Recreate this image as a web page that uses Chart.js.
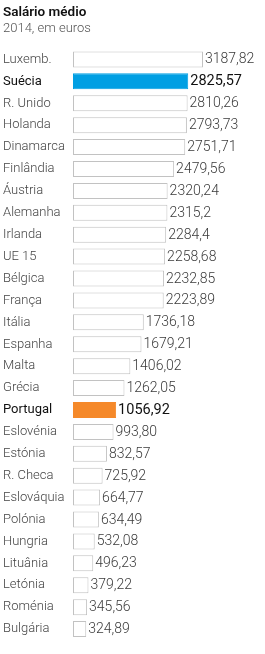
<!DOCTYPE html>
<html>
<head>
<meta charset="utf-8">
<script src="https://cdn.jsdelivr.net/npm/chart.js@4.4.1/dist/chart.umd.min.js"></script>
<style>
  html, body { margin: 0; padding: 0; background: #fff; }
  #wrap { width: 265px; height: 654px; position: relative; }
</style>
</head>
<body>
<div id="wrap"><canvas id="chart"></canvas></div>
<script>
// average salary 2014, euros
const countries = ['Luxemb.', 'Suécia', 'R. Unido', 'Holanda', 'Dinamarca', 'Finlândia', 'Áustria',
  'Alemanha', 'Irlanda', 'UE 15', 'Bélgica', 'França', 'Itália', 'Espanha', 'Malta', 'Grécia',
  'Portugal', 'Eslovénia', 'Estónia', 'R. Checa', 'Eslováquia', 'Polónia', 'Hungria', 'Lituânia',
  'Letónia', 'Roménia', 'Bulgária'];
const salaries = [3187.82, 2825.57, 2810.26, 2793.73, 2751.71, 2479.56, 2320.24, 2315.2, 2284.4,
  2258.68, 2232.85, 2223.89, 1736.18, 1679.21, 1406.02, 1262.05, 1056.92, 993.80, 832.57, 725.92,
  664.77, 634.49, 532.08, 496.23, 379.22, 345.56, 324.89];
const salaryLabels = ['3187,82', '2825,57', '2810,26', '2793,73', '2751,71', '2479,56', '2320,24',
  '2315,2', '2284,4', '2258,68', '2232,85', '2223,89', '1736,18', '1679,21', '1406,02', '1262,05',
  '1056,92', '993,80', '832,57', '725,92', '664,77', '634,49', '532,08', '496,23', '379,22',
  '345,56', '324,89'];
const highlight = { 'Suécia': '#009fe3', 'Portugal': '#f5892a' };

const FONT = 'Roboto, "Open Sans", sans-serif';
const isHi = i => highlight[countries[i]] !== undefined;

// value text right after each bar
const valueLabels = {
  id: 'valueLabels',
  afterDatasetsDraw(chart) {
    const ctx = chart.ctx;
    const meta = chart.getDatasetMeta(0);
    ctx.save();
    ctx.textBaseline = 'middle';
    ctx.textAlign = 'left';
    meta.data.forEach((bar, i) => {
      ctx.fillStyle = isHi(i) ? '#111' : '#3a3a3a';
      ctx.font = (isHi(i) ? '400 14.5px ' : '300 14px ') + FONT;
      ctx.fillText(salaryLabels[i], bar.x + 2, bar.y + 0.5);
    });
    ctx.restore();
  }
};

new Chart(document.getElementById('chart'), {
  type: 'bar',
  data: {
    labels: countries,
    datasets: [{
      data: salaries,
      backgroundColor: countries.map(c => highlight[c] || '#ffffff'),
      borderColor: countries.map(c => highlight[c] || '#c2c2c2'),
      borderWidth: 1,
      borderSkipped: false,
      barPercentage: 0.73,
      categoryPercentage: 1
    }]
  },
  options: {
    indexAxis: 'y',
    responsive: true,
    maintainAspectRatio: false,
    animation: false,
    layout: { padding: { left: 3, right: 0, top: 0, bottom: 14 } },
    plugins: {
      legend: { display: false },
      tooltip: { enabled: false },
      title: {
        display: true,
        text: 'Salário médio',
        align: 'start',
        color: '#111',
        font: { family: FONT, size: 13.5, weight: '600', lineHeight: 1.2 },
        padding: { top: 5, bottom: 0 }
      },
      subtitle: {
        display: true,
        text: '2014, em euros',
        align: 'start',
        color: '#555',
        font: { family: FONT, size: 13, weight: '300', lineHeight: 1.1 },
        padding: { top: 0, bottom: 13 }
      }
    },
    scales: {
      x: {
        display: false,
        min: 0,
        max: 4708
      },
      y: {
        afterFit(scale) { scale.width = 70; },
        grid: { display: false },
        border: { display: false },
        ticks: {
          crossAlign: 'far',
          padding: 0,
          color: c => isHi(c.index) ? '#111' : '#444',
          font: c => ({ family: FONT, size: 13, weight: isHi(c.index) ? '400' : '300' })
        }
      }
    }
  },
  plugins: [valueLabels]
});
</script>
</body>
</html>
